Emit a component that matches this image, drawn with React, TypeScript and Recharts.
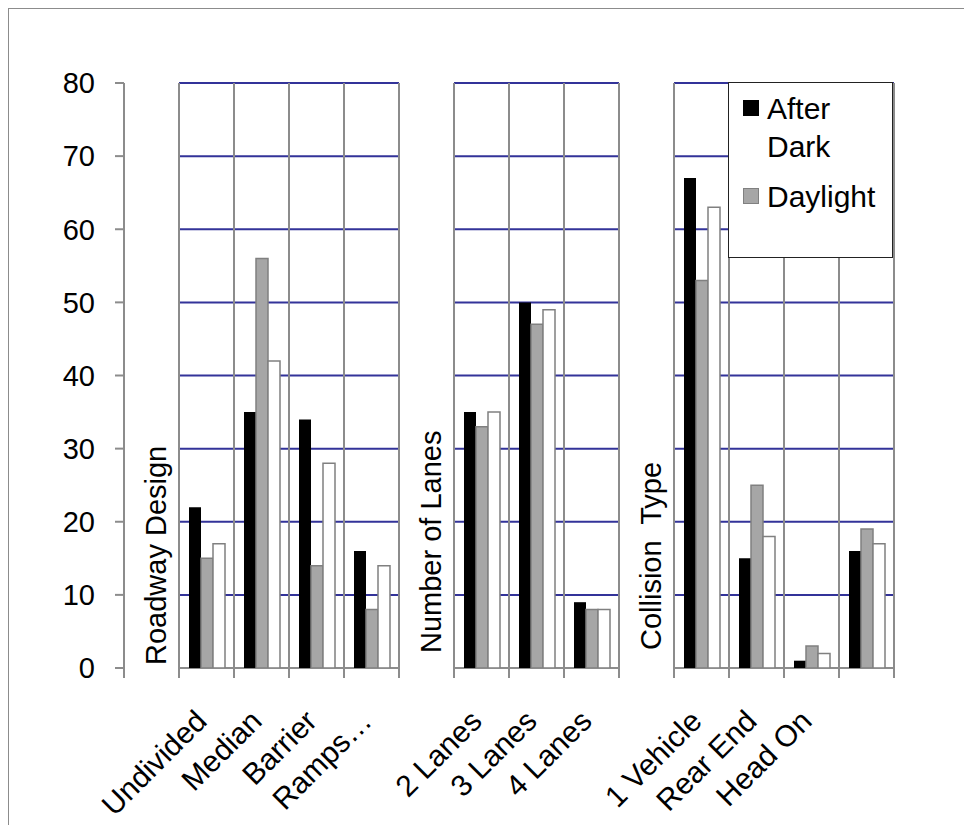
import React from "react";
import { Bar, BarChart, Legend, ReferenceLine, XAxis, YAxis } from "recharts";

// columns: a blank column in front of each group holds the group's title
const categories = ["", "Undivided", "Median", "Barrier", "Ramps…", "", "2 Lanes", "3 Lanes", "4 Lanes", "", "1 Vehicle", "Rear End", "Head On", ""];
const afterDark = [null, 22, 35, 34, 16, null, 35, 50, 9, null, 67, 15, 1, 16];
const daylight = [null, 15, 56, 14, 8, null, 33, 47, 8, null, 53, 25, 3, 19];
const allLight = [null, 17, 42, 28, 14, null, 35, 49, 8, null, 63, 18, 2, 17];
const groupTitles = ["Roadway Design", "Number of Lanes", "Collision  Type"];
const groupTitleCols = [0, 5, 9];
const groupLastCols = [4, 8, 13];
const yTicks = [0, 10, 20, 30, 40, 50, 60, 70, 80];

const BLUE = "#333399";
const GRID = "#8c8c8c";
const GRAY_FILL = "#a6a6a6";
const GRAY_EDGE = "#808080";
const TICK_DROP = -1.37; // tick marks hang ~10px below zero
const FONT = "'Liberation Sans', Arial, sans-serif";

const keys = categories.map((_, i) => `c${i}`);
const data = categories.map((name, i) => ({
  key: keys[i],
  name,
  afterDark: afterDark[i],
  daylight: daylight[i],
  allLight: allLight[i]
}));

const titleLift = [3, 15, 18];

function CategoryTick({ x, y, index }: any) {
  const label = categories[index];
  if (!label) return <g />;
  const ax = x + 2;
  const ay = y + 55;
  return (
    <text x={ax} y={ay} transform={`rotate(-45, ${ax}, ${ay})`} textAnchor="end" fontSize={30} fill="#000">
      {label}
    </text>
  );
}

function GroupTitle({ viewBox, text, lift }: any) {
  if (!viewBox) return null;
  const x = viewBox.x + 14;
  const y = viewBox.y + viewBox.height - lift;
  return (
    <text x={x} y={y} transform={`rotate(-90, ${x}, ${y})`} fontSize={29} fill="#000" style={{ whiteSpace: "pre" }}>
      {text}
    </text>
  );
}

const legendStyle: Record<string, { fill: string; stroke: string }> = {
  afterDark: { fill: "#000", stroke: "#000" },
  daylight: { fill: GRAY_FILL, stroke: GRAY_EDGE }
};

function LegendBox({ payload }: any) {
  const items = (payload ?? []).filter((p: any) => legendStyle[p.dataKey]);
  return (
    <div
      style={{
        boxSizing: "border-box",
        width: 165,
        height: 176,
        border: "1px solid #222",
        background: "#fff",
        padding: "7px 0 0 14px",
        fontFamily: FONT
      }}
    >
      {items.map((item: any) => (
        <div key={item.dataKey} style={{ display: "flex", alignItems: "flex-start", marginBottom: 12 }}>
          <div
            style={{
              boxSizing: "border-box",
              width: 16,
              height: 16,
              marginTop: 10,
              marginRight: 8,
              background: legendStyle[item.dataKey].fill,
              border: `1px solid ${legendStyle[item.dataKey].stroke}`
            }}
          />
          <div style={{ fontSize: 30, lineHeight: "38px", width: 120, color: "#000" }}>{item.value}</div>
        </div>
      ))}
    </div>
  );
}

export default function App() {
  return (
    <div style={{ position: "relative", width: 956, height: 817, overflow: "hidden", fontFamily: FONT, background: "#fff" }}>
      <div
        style={{
          position: "absolute",
          left: 0,
          top: 0,
          width: 956,
          height: 817,
          boxSizing: "border-box",
          borderLeft: `1px solid ${GRID}`,
          borderTop: `1px solid ${GRID}`
        }}
      />
      <div style={{ position: "absolute", left: 0, top: 0 }}>
        <BarChart
          width={956}
          height={817}
          data={data}
          margin={{ top: 75, right: 70, bottom: 0, left: 0 }}
          barSize={12}
          barGap={0}
        >
          <XAxis
            dataKey="key"
            height={157}
            interval={0}
            axisLine={false}
            tickLine={false}
            tickSize={0}
            tickMargin={0}
            tick={<CategoryTick />}
          />
          <YAxis
            width={116}
            domain={[0, 80]}
            ticks={yTicks}
            interval={0}
            allowDataOverflow
            tickSize={9}
            tickMargin={20}
            axisLine={{ stroke: GRID, strokeWidth: 2 }}
            tickLine={{ stroke: GRID, strokeWidth: 2 }}
            tick={{ fill: "#000", fontSize: 29 }}
          />

          {/* horizontal grid, one run per group */}
          {groupTitleCols.map((start, g) =>
            yTicks.slice(1).map((v) => (
              <ReferenceLine
                key={`h-${g}-${v}`}
                segment={[
                  { x: keys[start], y: v },
                  { x: keys[groupLastCols[g]], y: v }
                ]}
                position="end"
                stroke={BLUE}
                strokeWidth={2}
                ifOverflow="visible"
                zIndex={-10}
              />
            ))
          )}
          {/* vertical grid + x tick marks on column edges */}
          {keys.map((k) => (
            <ReferenceLine
              key={`v-${k}`}
              segment={[
                { x: k, y: TICK_DROP },
                { x: k, y: 80 }
              ]}
              position="end"
              stroke={GRID}
              strokeWidth={2}
              ifOverflow="visible"
              zIndex={-10}
            />
          ))}
          {/* x axis line per group */}
          {groupTitleCols.map((start, g) => (
            <ReferenceLine
              key={`ax-${g}`}
              segment={[
                { x: keys[start], y: 0 },
                { x: keys[groupLastCols[g]], y: 0 }
              ]}
              position="end"
              stroke={GRID}
              strokeWidth={2}
              ifOverflow="visible"
              zIndex={-10}
            />
          ))}
          {/* y axis runs a little below zero */}
          <ReferenceLine
            segment={[
              { x: keys[0], y: TICK_DROP },
              { x: keys[0], y: 0 }
            ]}
            position="start"
            stroke={GRID}
            strokeWidth={2}
            ifOverflow="visible"
          />
          {groupTitleCols.map((col, g) => (
            <ReferenceLine
              key={`t-${g}`}
              x={keys[col]}
              position="middle"
              stroke="none"
              ifOverflow="visible"
              label={<GroupTitle text={groupTitles[g]} lift={titleLift[g]} />}
            />
          ))}

          <Bar dataKey="afterDark" name="After Dark" fill="#000" isAnimationActive={false} />
          <Bar dataKey="daylight" name="Daylight" fill={GRAY_FILL} stroke={GRAY_EDGE} strokeWidth={1.5} isAnimationActive={false} />
          <Bar dataKey="allLight" name="All" fill="#fff" stroke={GRAY_EDGE} strokeWidth={1.5} isAnimationActive={false} />

          <Legend
            layout="horizontal"
            verticalAlign="middle"
            align="center"
            content={<LegendBox />}
            wrapperStyle={{ left: 720, top: 74, width: 165, height: 176 }}
          />
        </BarChart>
      </div>
    </div>
  );
}
